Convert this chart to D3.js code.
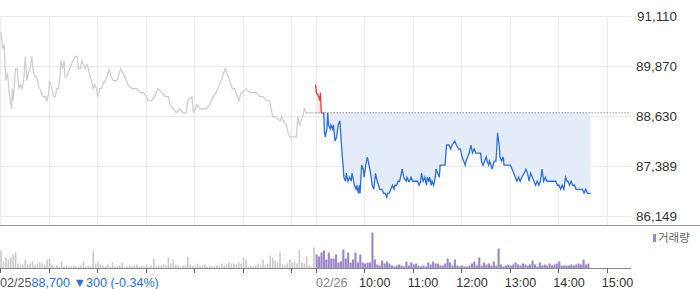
<!DOCTYPE html>
<html>
<head>
<meta charset="utf-8">
<script src="https://d3js.org/d3.v7.min.js"></script>
<style>
    body { margin: 0; background: #fff; }
    svg { display: block; font-family: "Liberation Sans", Arial, sans-serif; }
</style>
</head>
<body>
<script>
    // price axis
    var yTicks = [86149, 87389, 88630, 89870, 91110];
    var basePrice = 88700;

    // 02/25 session, minutes after 09:00
    var prevMin = [0, 1, 3, 5, 6, 7, 9, 11, 14, 15, 16, 19, 21, 23, 25, 27, 29, 31, 33, 35, 37, 39, 41, 43, 45, 47, 49, 51, 53, 56, 58, 60, 61, 64, 66, 68, 70, 72, 74, 75, 77, 79, 80, 82, 84, 86, 88, 90, 93, 95, 97, 99, 101, 103, 105, 107, 109, 111, 113, 115, 117, 119, 121, 123, 125, 127, 130, 132, 134, 135, 137, 140, 144, 146, 149, 151, 154, 158, 163, 164, 169, 173, 177, 181, 183, 187, 191, 195, 200, 204, 208, 210, 214, 218, 222, 226, 230, 232, 237, 239, 243, 247, 251, 255, 259, 263, 267, 271, 275, 278, 280, 284, 287, 290, 293, 295, 298, 300, 304, 309, 313, 317, 321, 325, 329, 333, 335, 337, 341, 346, 348, 350, 354, 356, 358, 362, 366, 368, 370, 372, 374, 376, 378, 389];
    var prevPrice = [90700, 90700, 90300, 90400, 89800, 89500, 89700, 89200, 88800, 89300, 89000, 89800, 89800, 89300, 89400, 89300, 89500, 90100, 89500, 89700, 89800, 90100, 89700, 89600, 89600, 89400, 89300, 89200, 89100, 89100, 89000, 89200, 89500, 89300, 89100, 89100, 89300, 89300, 89600, 90000, 89800, 90000, 89600, 89600, 89700, 89800, 89900, 90000, 90100, 90100, 89800, 89800, 90000, 89900, 89800, 89900, 89800, 89600, 89500, 89300, 89400, 89300, 89100, 89300, 89300, 89400, 89500, 89600, 89700, 89800, 89600, 89500, 89500, 89600, 89800, 89700, 89600, 89400, 89300, 89300, 89300, 89200, 89200, 89100, 89000, 89000, 89100, 89300, 89200, 89100, 89100, 88900, 88800, 88700, 88800, 88700, 88700, 89000, 89100, 88700, 88900, 88800, 88800, 88800, 88900, 89100, 89200, 89400, 89600, 89800, 89700, 89500, 89300, 89300, 89100, 89000, 89200, 89200, 89300, 89200, 89200, 89200, 89100, 89100, 89000, 89000, 88800, 88600, 88600, 88500, 88600, 88500, 88400, 88200, 88100, 88100, 88100, 88600, 88400, 88500, 88600, 88800, 88700, 88700];

    // 02/26 session
    var todayMin = [0, 1, 4, 5, 6, 7, 9, 10, 11, 12, 14, 15, 16, 18, 19, 21, 22, 24, 26, 28, 30, 31, 33, 34, 35, 37, 38, 40, 42, 44, 45, 47, 48, 50, 51, 53, 54, 55, 57, 59, 60, 62, 64, 66, 68, 70, 72, 74, 76, 78, 79, 82, 84, 86, 88, 89, 91, 93, 95, 97, 98, 100, 102, 104, 106, 107, 109, 112, 113, 115, 116, 118, 120, 122, 124, 126, 128, 130, 131, 133, 135, 137, 138, 140, 141, 143, 144, 146, 148, 149, 151, 153, 154, 156, 158, 159, 160, 162, 163, 165, 167, 169, 172, 174, 177, 179, 181, 183, 185, 186, 188, 190, 192, 194, 196, 198, 200, 202, 204, 205, 207, 209, 211, 212, 214, 215, 217, 218, 221, 223, 224, 225, 227, 228, 230, 232, 233, 235, 237, 239, 241, 243, 245, 247, 249, 251, 253, 255, 258, 260, 262, 264, 266, 268, 270, 272, 274, 276, 278, 280, 282, 284, 286, 288, 292, 297, 299, 301, 303, 305, 307, 309, 311, 312, 314, 316, 318, 320, 322, 325, 327, 330, 332, 334, 336, 338, 340];
    var todayPrice = [89400, 89200, 89100, 89000, 89200, 88700, 88700, 88700, 88200, 88100, 88300, 88700, 88400, 88300, 88400, 88300, 88400, 88000, 88100, 88400, 88500, 88200, 87600, 87400, 87100, 87000, 87200, 87000, 87100, 87000, 87200, 87000, 86900, 86800, 86900, 86700, 86900, 86700, 87400, 87300, 87100, 87400, 87600, 87400, 87200, 86900, 86800, 87200, 87000, 86900, 86800, 86800, 86700, 86700, 86600, 86700, 86700, 86800, 86900, 86800, 86900, 86900, 87000, 87000, 87200, 87300, 87100, 87000, 87100, 87000, 87000, 87100, 87000, 87000, 87000, 87000, 86900, 87000, 87200, 87000, 87100, 86900, 87100, 87000, 87100, 86900, 87000, 86900, 87100, 87300, 87200, 87100, 87400, 87400, 87400, 87400, 87400, 87900, 87900, 87900, 87800, 87900, 88000, 87900, 87800, 87800, 87600, 87500, 87400, 87500, 87600, 87700, 87900, 87700, 87800, 87700, 87700, 87700, 87700, 87500, 87400, 87500, 87600, 87500, 87400, 87500, 87400, 87300, 87500, 87500, 87800, 88200, 87900, 87600, 87500, 87600, 87400, 87400, 87400, 87400, 87400, 87300, 87200, 87100, 87000, 87100, 87000, 87100, 87200, 87300, 87200, 87000, 87200, 87100, 87000, 86900, 87000, 86900, 87000, 87300, 87000, 87100, 87000, 87000, 87000, 87000, 86900, 86900, 86800, 86900, 86800, 87100, 87000, 87000, 86900, 87000, 86900, 86900, 86800, 86800, 86800, 86800, 86700, 86800, 86700, 86700, 86700];

    // volume, one bar per 3 minutes (thousand shares)
    var prevVol = [18, 7, 11, 9, 11, 14, 16, 5, 4, 4, 9, 4, 5, 7, 4, 5, 6, 5, 4, 9, 10, 4, 2, 3, 2, 7, 2, 3, 2, 2, 3, 2, 2, 3, 7, 2, 3, 2, 18, 5, 7, 4, 3, 2, 4, 2, 6, 2, 2, 3, 6, 2, 2, 3, 2, 3, 4, 2, 3, 2, 4, 2, 3, 10, 2, 3, 3, 4, 3, 11, 5, 9, 4, 3, 2, 3, 3, 12, 4, 3, 2, 5, 3, 3, 4, 2, 3, 2, 2, 3, 3, 5, 3, 4, 6, 5, 5, 4, 6, 5, 11, 9, 2, 3, 2, 3, 5, 4, 9, 4, 5, 13, 11, 8, 6, 16, 4, 3, 5, 9, 6, 7, 5, 19, 6, 5, 12, 3, 2, 21];
    var todayVol = [14, 12, 16, 18, 9, 16, 10, 10, 14, 6, 7, 19, 10, 16, 6, 9, 16, 6, 14, 6, 5, 6, 6, 36, 9, 4, 3, 8, 5, 7, 5, 3, 2, 3, 4, 3, 2, 7, 3, 6, 4, 5, 3, 2, 3, 2, 6, 4, 7, 5, 5, 3, 3, 5, 10, 6, 3, 9, 3, 2, 3, 2, 2, 3, 5, 7, 3, 11, 3, 6, 4, 5, 3, 7, 3, 20, 4, 2, 3, 4, 3, 4, 6, 4, 3, 5, 4, 3, 4, 8, 4, 2, 6, 3, 4, 3, 5, 3, 4, 5, 7, 3, 3, 3, 3, 4, 3, 4, 5, 4, 9, 4, 5];

    // time axis (minutes on the joined two-day scale)
    var tickMin = [0, 60, 120, 180, 240, 300, 360, 390, 450, 510, 570, 630, 690, 750];
    var tickLabel = ['02/25', '', '', '', '', '', '', '02/26', '10:00', '11:00', '12:00', '13:00', '14:00', '15:00'];
    var prevClose = '88,700 \u25BC300 (-0.34%)';
    var todayStart = 390;

    var width = 700, height = 289;
    var plotRight = 631;

    var x = d3.scaleLinear().domain([0, 780]).range([0.2, plotRight]);
    var y = d3.scaleLinear().domain([86149, 91110]).range([215.5, 15.8]);
    var yVol = d3.scaleLinear().domain([0, 36]).range([268.5, 232.5]);

    var svg = d3.select('body')
        .append('svg')
        .attr('width', width)
        .attr('height', height);

    var baseY = y(basePrice);

    // clips for above / below base price
    var defs = svg.append('defs');
    defs.append('clipPath').attr('id', 'above')
        .append('rect').attr('x', 0).attr('y', 0).attr('width', width).attr('height', baseY);
    defs.append('clipPath').attr('id', 'below')
        .append('rect').attr('x', 0).attr('y', baseY).attr('width', width).attr('height', height - baseY);

    // grid
    svg.append('g')
        .selectAll('line')
        .data(yTicks)
        .enter()
        .append('line')
        .attr('x1', 0)
        .attr('x2', plotRight)
        .attr('y1', d => Math.round(y(d)) + 0.5)
        .attr('y2', d => Math.round(y(d)) + 0.5)
        .attr('stroke', '#ebebeb');

    svg.append('g')
        .selectAll('line')
        .data(tickMin)
        .enter()
        .append('line')
        .attr('x1', d => Math.round(x(d)) + 0.5)
        .attr('x2', d => Math.round(x(d)) + 0.5)
        .attr('y1', 16)
        .attr('y2', 225)
        .attr('stroke', '#ebebeb');

    // y labels
    svg.append('g')
        .selectAll('text')
        .data(yTicks)
        .enter()
        .append('text')
        .attr('x', 677)
        .attr('y', d => y(d) + 5)
        .attr('text-anchor', 'end')
        .attr('font-size', '13.4px')
        .attr('fill', '#333')
        .text(d => d3.format(',')(d));

    var today = todayMin.map((m, i) => ({ m: m + todayStart, p: todayPrice[i] }));
    var prev = prevMin.map((m, i) => ({ m: m, p: prevPrice[i] }));

    var area = d3.area()
        .x(d => x(d.m))
        .y0(baseY)
        .y1(d => y(d.p));
    var line = d3.line()
        .x(d => x(d.m))
        .y(d => y(d.p));

    // fills between today's line and base
    svg.append('path').datum(today).attr('d', area)
        .attr('fill', '#fde8e8').attr('clip-path', 'url(#above)');
    svg.append('path').datum(today).attr('d', area)
        .attr('fill', '#e4ecf9').attr('clip-path', 'url(#below)');

    // base price dotted line
    svg.append('line')
        .attr('x1', x(todayStart))
        .attr('x2', plotRight)
        .attr('y1', baseY)
        .attr('y2', baseY)
        .attr('stroke', '#555')
        .attr('stroke-dasharray', '1,2');

    // previous day line
    svg.append('path').datum(prev).attr('d', line)
        .attr('fill', 'none').attr('stroke', '#cbccd0').attr('stroke-width', 1.2);

    // today line, red above base, blue below
    svg.append('path').datum(today).attr('d', line)
        .attr('fill', 'none').attr('stroke', '#f2383a').attr('stroke-width', 1.3)
        .attr('clip-path', 'url(#above)');
    svg.append('path').datum(today).attr('d', line)
        .attr('fill', 'none').attr('stroke', '#2a6fdb').attr('stroke-width', 1.3)
        .attr('clip-path', 'url(#below)');

    // panel separator
    svg.append('line')
        .attr('x1', 0).attr('x2', width)
        .attr('y1', 225.5).attr('y2', 225.5)
        .attr('stroke', '#999');

    // volume bars
    var barW = 1.6;
    svg.append('g')
        .selectAll('rect')
        .data(prevVol)
        .enter()
        .append('rect')
        .attr('x', (d, i) => x(i * 3))
        .attr('y', d => yVol(d))
        .attr('width', barW)
        .attr('height', d => yVol(0) - yVol(d))
        .attr('fill', '#c9cacd');

    svg.append('g')
        .selectAll('rect')
        .data(todayVol)
        .enter()
        .append('rect')
        .attr('x', (d, i) => x(todayStart + i * 3))
        .attr('y', d => yVol(d))
        .attr('width', x(3) - x(0) - 0.3)
        .attr('height', d => yVol(0) - yVol(d))
        .attr('fill', '#9c87c8');

    // volume axis
    svg.append('line')
        .attr('x1', 0).attr('x2', plotRight)
        .attr('y1', 268.5).attr('y2', 268.5)
        .attr('stroke', '#888');

    svg.append('g')
        .selectAll('line')
        .data(tickMin)
        .enter()
        .append('line')
        .attr('x1', d => Math.round(x(d)) + 0.5)
        .attr('x2', d => Math.round(x(d)) + 0.5)
        .attr('y1', 268.5)
        .attr('y2', 273)
        .attr('stroke', '#666');

    // x labels
    svg.append('g')
        .selectAll('text')
        .data(tickMin.filter((d, i) => tickLabel[i] && i > 0))
        .enter()
        .append('text')
        .attr('x', d => tickLabel[tickMin.indexOf(d)].indexOf('/') > 0 ? x(d) + 0.5 : x(d) - 5)
        .attr('y', 286.5)
        .attr('font-size', '12.6px')
        .attr('fill', d => tickLabel[tickMin.indexOf(d)].indexOf('/') > 0 ? '#888' : '#333')
        .text(d => tickLabel[tickMin.indexOf(d)]);

    var first = svg.append('text')
        .attr('x', 0)
        .attr('y', 286.5)
        .attr('font-size', '12.6px');
    first.append('tspan').attr('fill', '#555').text(tickLabel[0]);
    first.append('tspan').attr('fill', '#2a6fdb').text(prevClose);

    // legend
    svg.append('rect')
        .attr('x', 653).attr('y', 234)
        .attr('width', 3).attr('height', 8)
        .attr('fill', '#9c87c8');
    svg.append('text')
        .attr('x', 658).attr('y', 242)
        .attr('font-size', '11.5px')
        .attr('font-family', '"Noto Sans CJK KR", sans-serif')
        .attr('fill', '#666')
        .text('거래량');
</script>
</body>
</html>
